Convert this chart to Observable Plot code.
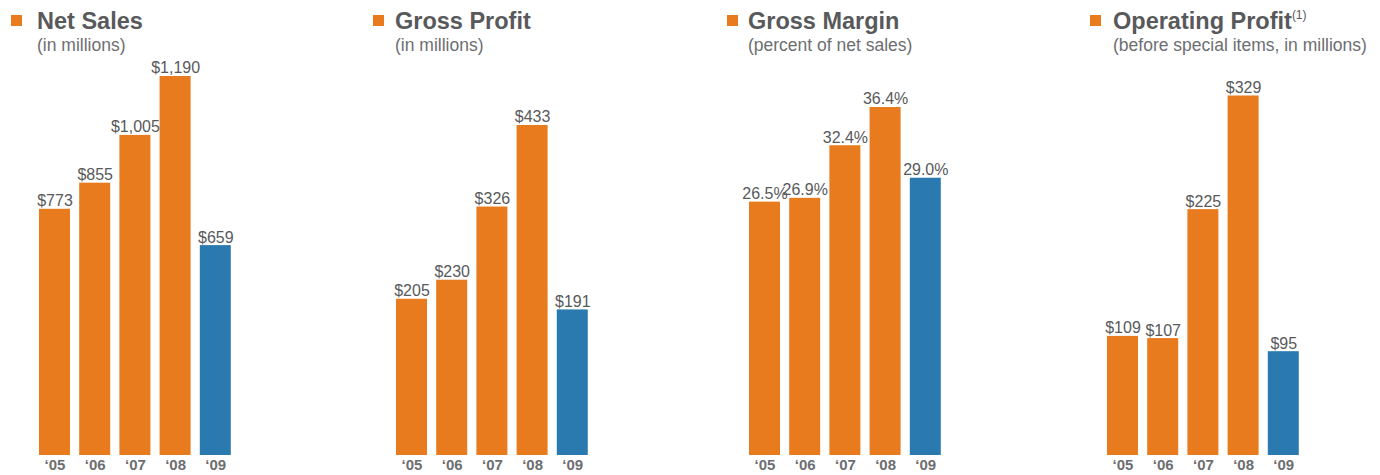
<!DOCTYPE html>
<html>
<head>
<meta charset="utf-8">
<script src="https://cdn.jsdelivr.net/npm/d3@7"></script>
<script src="https://cdn.jsdelivr.net/npm/@observablehq/plot@0.6"></script>
<style>
  html, body { margin: 0; padding: 0; background: #fff; }
  #root { position: relative; width: 1380px; height: 475px; overflow: hidden;
          font-family: Helvetica, Arial, "Liberation Sans", sans-serif; }
  .marker { position: absolute; width: 11px; height: 11px; background: #e87b1e; top: 15px; }
  .title { position: absolute; top: 8.7px; font-size: 23.5px; line-height: 24px; font-weight: bold;
           color: #58595b; white-space: nowrap; }
  .title sup { font-size: 12px; font-weight: normal; vertical-align: 0; position: relative; top: -10px; }
  .subtitle { position: absolute; top: 35.8px; font-size: 17.5px; line-height: 18px; color: #6d6e71; white-space: nowrap; }
  .panel { position: absolute; top: 56px; }
  .panel svg [aria-label="x-axis tick label"] text { font-weight: bold; font-size: 15px; fill: #6d6e71; }
</style>
</head>
<body>
<div id="root"></div>
<script>
// ---- data ----
const years = ["\u201805", "\u201806", "\u201807", "\u201808", "\u201809"];
const netSales = [773, 855, 1005, 1190, 659];
const grossProfit = [205, 230, 326, 433, 191];
const grossMargin = [26.5, 26.9, 32.4, 36.4, 29.0];
const operatingProfit = [109, 107, 225, 329, 95];
const currentYear = "\u201809";

const titles = ["Net Sales", "Gross Profit", "Gross Margin", "Operating Profit"];
const subtitles = ["(in millions)", "(in millions)", "(percent of net sales)", "(before special items, in millions)"];
const footnotes = ["", "", "", "(1)"];

const ORANGE = "#e87b1e", BLUE = "#2a7ab0";

const dollar = d3.format("$,");
const pct = v => v.toFixed(1) + "%";

// layout (positions only)
const layout = [
  {marker: 11, text: 37, bar: 39, top: 20},
  {marker: 373, text: 395, bar: 396, top: 69},
  {marker: 727, text: 748, bar: 749, top: 51},
  {marker: 1090, text: 1113, bar: 1107, top: 39.5}
];
const series = [netSales, grossProfit, grossMargin, operatingProfit];
const formats = [dollar, dollar, pct, dollar];

const root = document.getElementById("root");
const STEP = 40.2, BAR = 31, SIDE = 30;
const rangeW = STEP * (years.length - 1) + BAR;

series.forEach((vals, i) => {
  const L = layout[i];
  const m = document.createElement("div");
  m.className = "marker"; m.style.left = L.marker + "px";
  root.appendChild(m);
  const t = document.createElement("div");
  t.className = "title"; t.style.left = L.text + "px";
  t.textContent = titles[i];
  if (footnotes[i]) { const s = document.createElement("sup"); s.textContent = footnotes[i]; t.appendChild(s); }
  root.appendChild(t);
  const st = document.createElement("div");
  st.className = "subtitle"; st.style.left = L.text + "px";
  st.textContent = subtitles[i];
  root.appendChild(st);

  const data = years.map((y, j) => ({year: y, value: vals[j]}));
  const chart = Plot.plot({
    width: SIDE * 2 + rangeW,
    height: 419,
    marginLeft: SIDE,
    marginRight: SIDE,
    marginTop: L.top,
    marginBottom: 20,
    style: {background: "transparent", overflow: "visible",
            fontFamily: "Helvetica, Arial, 'Liberation Sans', sans-serif", fontSize: "16px"},
    x: {domain: years, paddingInner: (STEP - BAR) / STEP, paddingOuter: 0, round: false, label: null},
    y: {domain: [0, d3.max(vals)], axis: null},
    marks: [
      Plot.barY(data, {x: "year", y: "value", fill: d => d.year === currentYear ? BLUE : ORANGE}),
      Plot.text(data, {x: "year", y: "value", text: d => formats[i](d.value), dy: -3,
                       lineAnchor: "bottom", fontSize: 16, fill: "#58595b"}),
      Plot.axisX({tickSize: 0, tickPadding: 4, fontSize: 15, fontWeight: "bold", fill: "#6d6e71", label: null})
    ]
  });
  const wrap = document.createElement("div");
  wrap.className = "panel";
  wrap.style.left = (L.bar - SIDE) + "px";
  wrap.appendChild(chart);
  root.appendChild(wrap);
});
</script>
</body>
</html>
